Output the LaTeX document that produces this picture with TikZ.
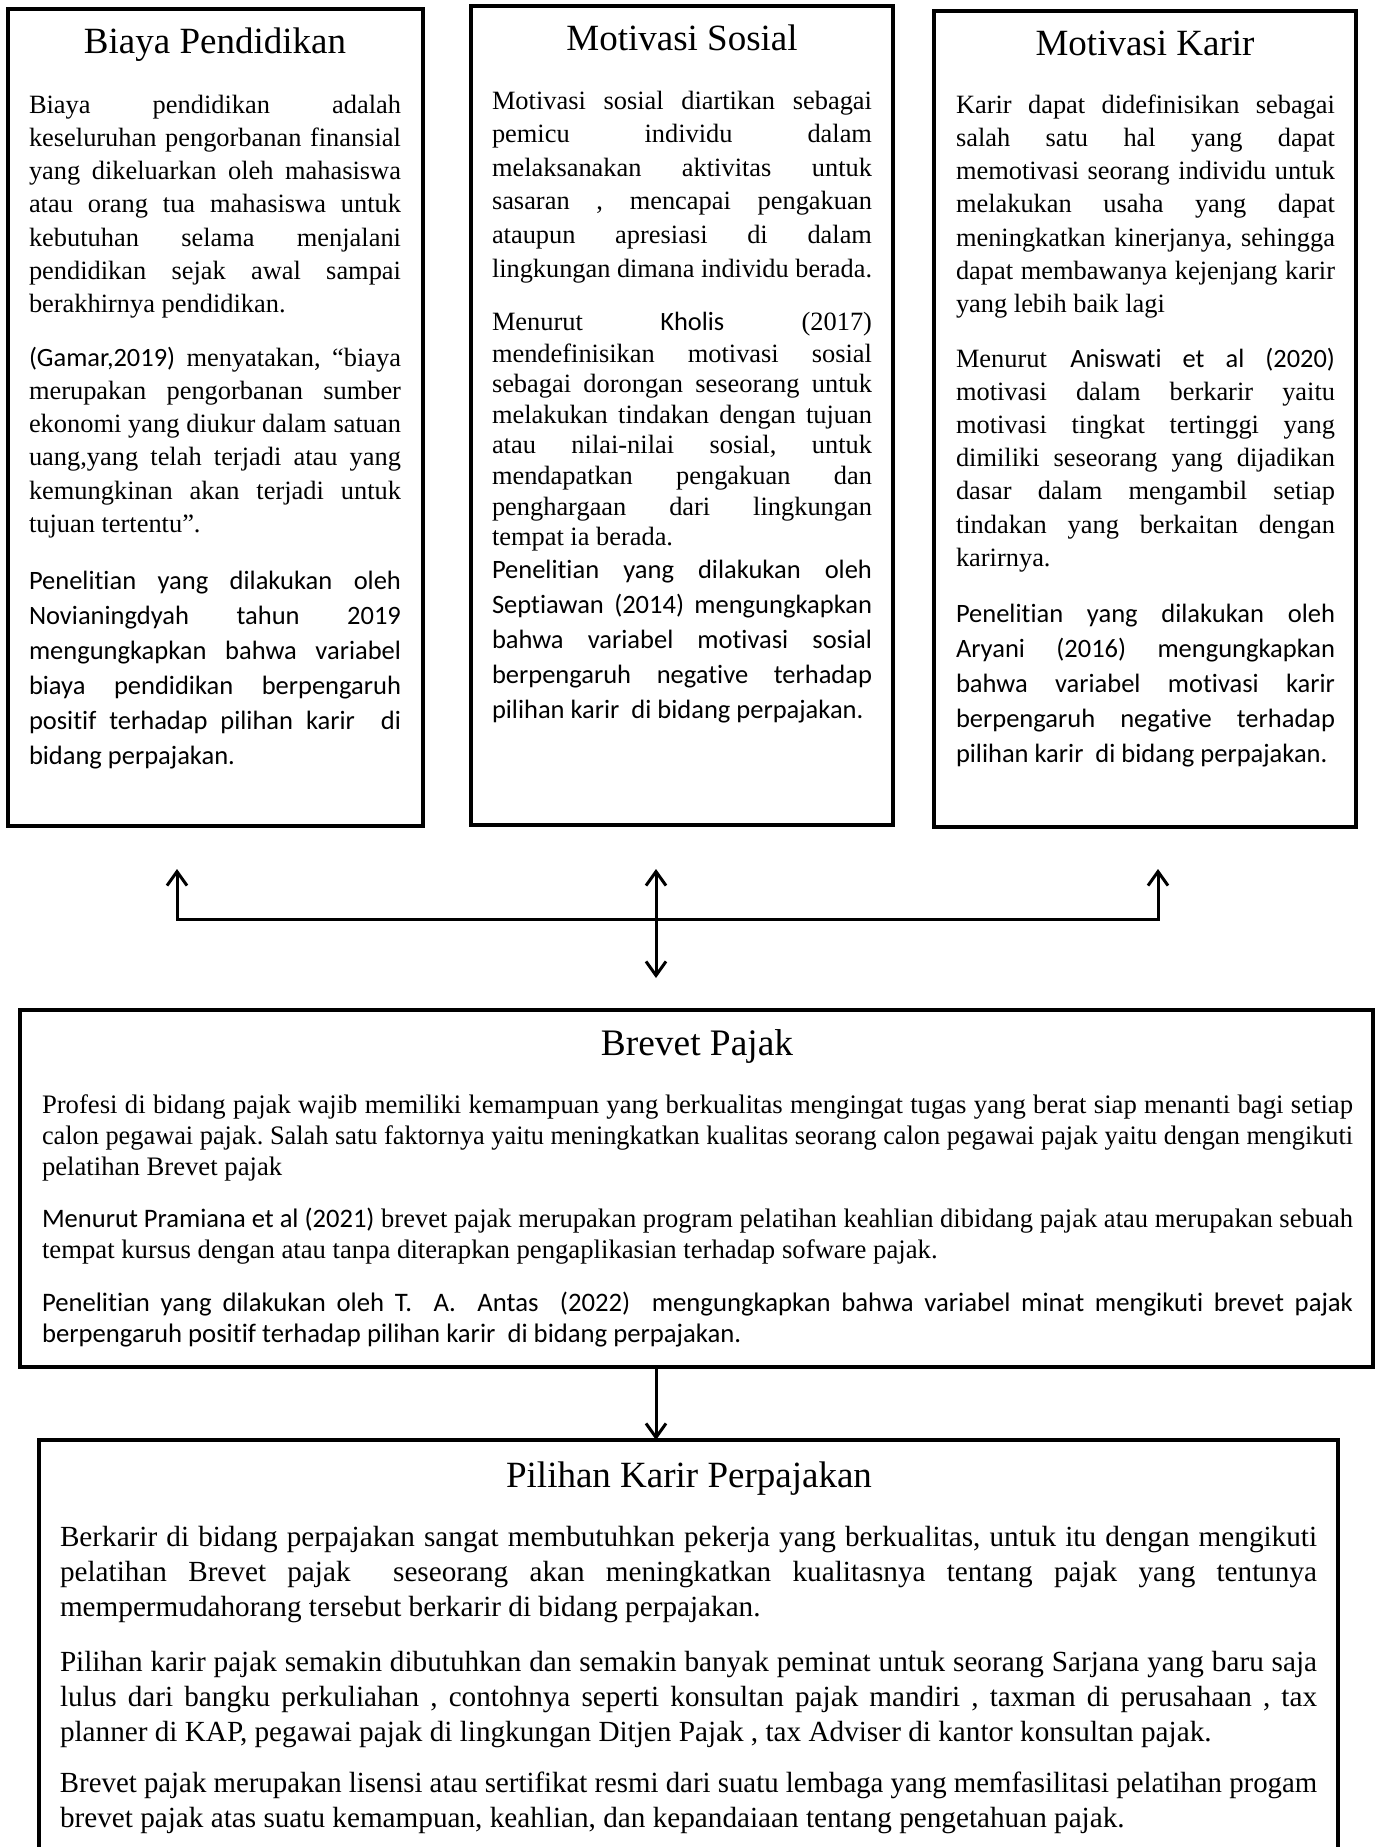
\documentclass[tikz,border=0pt]{standalone}
\usepackage{fontspec}
\usepackage{graphicx}
\setmainfont{Liberation Serif}
\newfontfamily\calfont[Ligatures={NoCommon}]{Carlito}
\usetikzlibrary{arrows.meta}
\hbadness=10000
\hfuzz=50pt
\frenchspacing
\newsavebox\jlbox
\newcommand\jl[1]{\sbox\jlbox{#1}%
  \ifdim\wd\jlbox>\linewidth
    \hbox to\linewidth{\resizebox{\linewidth}{\ht\jlbox}{\usebox\jlbox}}%
  \else
    \hbox to\linewidth{#1}%
  \fi}
\newcommand\lastl[1]{\hbox{#1}}
\newcommand\ca[1]{{\calfont #1}}
\newcommand\pbox[3]{\parbox[t]{#1}{#2\lineskiplimit=-100pt\lineskip=0pt #3}}
\newcommand\fTop{\fontsize{13.2pt}{16.65pt}\selectfont}
\newcommand\fCal{\fontsize{13.25pt}{17.5pt}\selectfont\calfont}
\begin{document}
\begin{tikzpicture}[x=0.5pt,y=-0.5pt,
  panel/.style={draw, line width=1.6pt, inner sep=0pt, outer sep=0pt, anchor=north west},
  ttl/.style={anchor=base, inner sep=0pt, font=\fontsize{18.5pt}{22pt}\selectfont},
  txt/.style={anchor=base west, inner sep=0pt, outer sep=0pt},
  conn/.style={line width=1.5pt},
  >={Straight Barb[length=7pt,width=10pt]}]
\useasboundingbox (0,0) rectangle (1377,1847);
\fill[white] (0,0) rectangle (1377,1847);
\clip (0,0) rectangle (1377,1847);

% ---------- Biaya Pendidikan ----------
\node[panel, minimum width=207.5pt, minimum height=408.5pt] (bBiaya) at (8,9) {};
\node[ttl] (tBiaya) at (215,54) {Biaya Pendidikan};
\node[txt] (p1a) at (29,113) {\pbox{186pt}{\fTop}{
\jl{Biaya pendidikan adalah}
\jl{keseluruhan pengorbanan finansial}
\jl{yang dikeluarkan oleh mahasiswa}
\jl{atau orang tua mahasiswa untuk}
\jl{kebutuhan selama menjalani}
\jl{pendidikan sejak awal sampai}
\lastl{berakhirnya pendidikan.}}};
\node[txt] (p1b) at (29,366) {\pbox{186pt}{\fTop}{
\jl{\ca{(Gamar,2019)} menyatakan, “biaya}
\jl{merupakan pengorbanan sumber}
\jl{ekonomi yang diukur dalam satuan}
\jl{uang,yang telah terjadi atau yang}
\jl{kemungkinan akan terjadi untuk}
\lastl{tujuan tertentu”.}}};
\node[txt] (p1c) at (29,589) {\pbox{186pt}{\fCal}{
\jl{Penelitian yang dilakukan oleh}
\jl{Novianingdyah tahun 2019}
\jl{mengungkapkan bahwa variabel}
\jl{biaya pendidikan berpengaruh}
\jl{positif terhadap pilihan karir\ \ di}
\lastl{bidang perpajakan.}}};

% ---------- Motivasi Sosial ----------
\node[panel, minimum width=211pt, minimum height=409.5pt] (bSosial) at (471,6) {};
\node[ttl] (tSosial) at (682,50) {Motivasi Sosial};
\node[txt] (p2a) at (492,109) {\pbox{190pt}{\fontsize{13.2pt}{16.8pt}\selectfont}{
\jl{Motivasi sosial diartikan sebagai}
\jl{pemicu individu dalam}
\jl{melaksanakan aktivitas untuk}
\jl{sasaran , mencapai pengakuan}
\jl{ataupun apresiasi di dalam}
\jl{lingkungan dimana individu berada.}}};
\node[txt] (p2b) at (492,330) {\pbox{190pt}{\fontsize{13.2pt}{15.3pt}\selectfont}{
\jl{Menurut \ca{Kholis} (2017)}\vskip0.75pt
\jl{mendefinisikan motivasi sosial}
\jl{sebagai dorongan seseorang untuk}
\jl{melakukan tindakan dengan tujuan}
\jl{atau nilai-nilai sosial, untuk}
\jl{mendapatkan pengakuan dan}
\jl{penghargaan dari lingkungan}
\lastl{tempat ia berada.}}};
\node[txt] (p2c) at (492,578) {\pbox{190pt}{\fCal}{
\jl{Penelitian yang dilakukan oleh}
\jl{Septiawan (2014) mengungkapkan}
\jl{bahwa variabel motivasi sosial}
\jl{berpengaruh negative terhadap}
\lastl{pilihan karir\ \ di bidang perpajakan.}}};

% ---------- Motivasi Karir ----------
\node[panel, minimum width=211pt, minimum height=408pt] (bKarir) at (934,11) {};
\node[ttl] (tKarir) at (1145,55) {Motivasi Karir};
\node[txt] (p3a) at (956,113) {\pbox{189.5pt}{\fTop}{
\jl{Karir dapat didefinisikan sebagai}
\jl{salah satu hal yang dapat}
\jl{memotivasi seorang individu untuk}
\jl{melakukan usaha yang dapat}
\jl{meningkatkan kinerjanya, sehingga}
\jl{dapat membawanya kejenjang karir}
\lastl{yang lebih baik lagi}}};
\node[txt] (p3b) at (956,367) {\pbox{189.5pt}{\fontsize{13.2pt}{16.6pt}\selectfont}{
\jl{Menurut \ca{Aniswati et al (2020)}}
\jl{motivasi dalam berkarir yaitu}
\jl{motivasi tingkat tertinggi yang}
\jl{dimiliki seseorang yang dijadikan}
\jl{dasar dalam mengambil setiap}
\jl{tindakan yang berkaitan dengan}
\lastl{karirnya.}}};
\node[txt] (p3c) at (956,622) {\pbox{189.5pt}{\fCal}{
\jl{Penelitian yang dilakukan oleh}
\jl{Aryani (2016) mengungkapkan}
\jl{bahwa variabel motivasi karir}
\jl{berpengaruh negative terhadap}
\lastl{pilihan karir\ \ di bidang perpajakan.}}};

% ---------- Brevet Pajak ----------
\node[panel, minimum width=676.5pt, minimum height=178.5pt] (bBrevet) at (20,1010) {};
\node[ttl, font=\fontsize{18.7pt}{22pt}\selectfont] (tBrevet) at (697,1055) {Brevet Pajak};
\node[txt] (p4a) at (42,1113) {\pbox{655.5pt}{\fontsize{13.35pt}{15.6pt}\selectfont}{
\jl{Profesi di bidang pajak wajib memiliki kemampuan yang berkualitas mengingat tugas yang berat siap menanti bagi setiap}
\jl{calon pegawai pajak. Salah satu faktornya yaitu meningkatkan kualitas seorang calon pegawai pajak yaitu dengan mengikuti}
\lastl{pelatihan Brevet pajak}}};
\node[txt] (p4b) at (42,1227) {\pbox{655.5pt}{\fontsize{13.35pt}{15.6pt}\selectfont}{
\jl{\ca{Menurut Pramiana et al (2021)} brevet pajak merupakan program pelatihan keahlian dibidang pajak atau merupakan sebuah}
\lastl{tempat kursus dengan atau tanpa diterapkan pengaplikasian terhadap sofware pajak.}}};
\node[txt] (p4c) at (42,1311) {\pbox{655.5pt}{\fontsize{13.35pt}{15.6pt}\selectfont\calfont}{
\jl{Penelitian yang dilakukan oleh T.\ \ A.\ \ Antas\ \ (2022)\ \ mengungkapkan bahwa variabel minat mengikuti brevet pajak}
\lastl{berpengaruh positif terhadap pilihan karir\ \ di bidang perpajakan.}}};

% ---------- Pilihan Karir Perpajakan ----------
\node[panel, minimum width=649.5pt, minimum height=240pt] (bPilihan) at (39,1440) {};
\node[ttl] (tPilihan) at (689,1487) {Pilihan Karir Perpajakan};
\node[txt] (p5a) at (60,1546) {\pbox{628.5pt}{\fontsize{14.6pt}{17.5pt}\selectfont}{
\jl{Berkarir di bidang perpajakan sangat membutuhkan pekerja yang berkualitas, untuk itu dengan mengikuti}
\jl{pelatihan Brevet pajak\ \ seseorang akan meningkatkan kualitasnya tentang pajak yang tentunya}
\lastl{mempermudahorang tersebut berkarir di bidang perpajakan.}}};
\node[txt] (p5b) at (60,1671) {\pbox{628.5pt}{\fontsize{14.6pt}{17.5pt}\selectfont}{
\jl{Pilihan karir pajak semakin dibutuhkan dan semakin banyak peminat untuk seorang Sarjana yang baru saja}
\jl{lulus dari bangku perkuliahan , contohnya seperti konsultan pajak mandiri , taxman di perusahaan , tax}
\lastl{planner di KAP, pegawai pajak di lingkungan Ditjen Pajak , tax Adviser di kantor konsultan pajak.}}};
\node[txt] (p5c) at (60,1792) {\pbox{628.5pt}{\fontsize{14.6pt}{17.5pt}\selectfont}{
\jl{Brevet pajak merupakan lisensi atau sertifikat resmi dari suatu lembaga yang memfasilitasi pelatihan progam}
\lastl{brevet pajak atas suatu kemampuan, keahlian, dan kepandaiaan tentang pengetahuan pajak.}}};

% ---------- connectors ----------
\coordinate (aL) at (177,869);
\coordinate (aR) at (1158,869);
\coordinate (hub) at (656,919);
\coordinate (aMt) at (656,869);
\coordinate (aMb) at (656,978);
\draw[conn,<->] (aL) |- (hub) -| (aR);
\draw[conn,<->] (aMt) -- (aMb);
\draw[conn,->] (bBrevet.south -| aMb) -- (bPilihan.north -| aMb);
\end{tikzpicture}
\end{document}
